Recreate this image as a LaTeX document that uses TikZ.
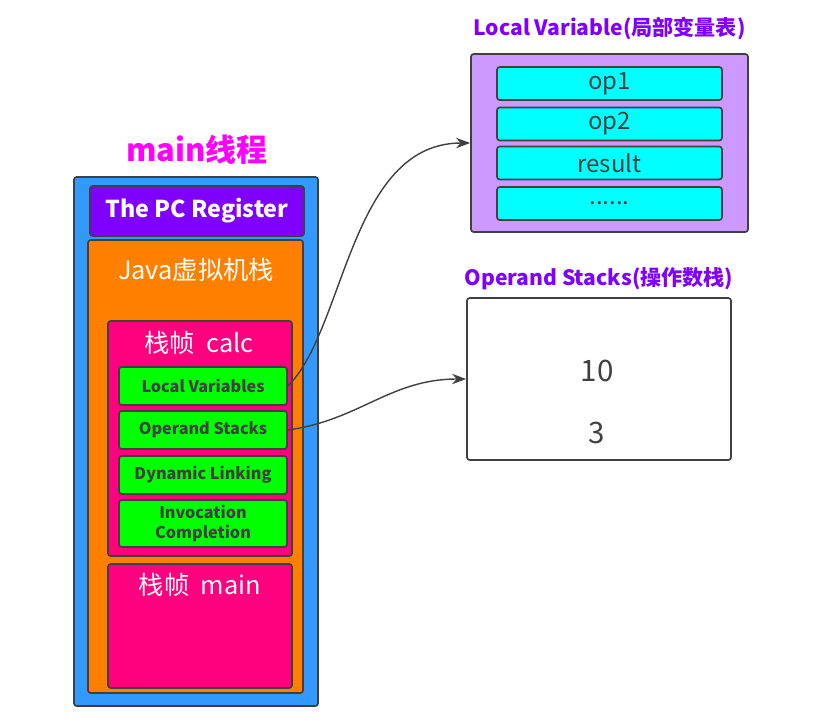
\documentclass[tikz,border=0pt]{standalone}
\usepackage{fontspec}
\setmainfont{Noto Sans CJK SC}
\usetikzlibrary{arrows.meta, positioning}

\definecolor{threadblue}{HTML}{3399FF}
\definecolor{threadpink}{HTML}{FF00FF}
\definecolor{pcpurple}{HTML}{7F00FF}
\definecolor{stackorange}{HTML}{FF8000}
\definecolor{framepink}{HTML}{FF007F}
\definecolor{slotgreen}{HTML}{00FF00}
\definecolor{cellcyan}{HTML}{00FFFF}
\definecolor{tablelilac}{HTML}{CC99FF}
\definecolor{edgegray}{HTML}{404040}

\newcommand{\fsz}[1]{\fontsize{#1}{1.2\dimexpr #1\relax}\selectfont}

\begin{document}
\begin{tikzpicture}[
    x=0.025cm, y=-0.025cm,
    panel/.style={rectangle, rounded corners=2pt, draw=edgegray, line width=1.2pt, inner sep=0pt},
    pcbox/.style={panel, fill=pcpurple, text=white, minimum width=5.35cm, minimum height=1.25cm, font=\fsz{16.5pt}\bfseries},
    framebox/.style={panel, fill=framepink, minimum width=4.6cm},
    slot/.style={panel, fill=slotgreen, text=edgegray, minimum width=4.2cm, minimum height=0.95cm, align=center, font=\fsz{11.5pt}\bfseries},
    cell/.style={panel, fill=cellcyan, text=edgegray, minimum width=5.625cm, minimum height=0.825cm, font=\fsz{17pt}},
    heading/.style={text=white, font=\fsz{18pt}},
    title/.style={text=pcpurple, font=\fsz{15pt}\bfseries},
    arrow/.style={-{Stealth[length=3.5mm, width=2.6mm]}, draw=edgegray, line width=1pt},
]
\useasboundingbox (0,0) rectangle (814,725);

% Thread
\node[font=\fsz{22pt}\bfseries, text=threadpink] (thread) at (197,150) {main线程};
\node[panel, fill=threadblue, minimum width=6.1cm, minimum height=13.225cm] (outer) at (196,441.5) {};
\node[pcbox] (pc) at (197,211) {The PC Register};

% JVM stack
\node[panel, fill=stackorange, minimum width=5.375cm, minimum height=11.325cm] (jvm) at (195.5,466.5) {};
\node[heading] at (196,270) {Java虚拟机栈};

% Frame calc
\node[framebox, minimum height=5.875cm] (calc) at (200,438.5) {};
\node[heading] at (199,343) {栈帧~~calc};
\node[slot] (lv) at (203,386) {Local Variables};
\node[slot] (os) at (203,430) {Operand Stacks};
\node[slot] (dl) at (203,475) {Dynamic Linking};
\node[slot, minimum height=1.175cm, font={\fontsize{11.5pt}{14.5pt}\selectfont\bfseries}] (ic) at (203,523.5) {Invocation\\Completion};

% Frame main
\node[framebox, minimum height=3.1cm] (mainf) at (200,626) {};
\node[heading] at (200,585) {栈帧~~main};

% Local variable table
\node[panel, fill=tablelilac, minimum width=6.925cm, minimum height=4.45cm] (lvt) at (609.5,143) {};
\node[title, above=0.2cm of lvt] {Local Variable(局部变量表)};
\node[cell] (op1) at (609.5,83.5) {op1};
\node[cell] (op2) at (609.5,124) {op2};
\node[cell] (res) at (609.5,163) {result};
\node[cell] (more) at (609.5,203.5) {......};

% Operand stack
\node[panel, fill=white, minimum width=6.6cm, minimum height=4.05cm] (ost) at (599,379) {};
\node[title, above=0.05cm of ost] {Operand Stacks(操作数栈)};
\node[text=edgegray, font=\fsz{21pt}] (ten) at (597,371) {10};
\node[text=edgegray, font=\fsz{21pt}] (three) at (597,433) {3};

% Links
\draw[arrow] (lv.east) .. controls (345,330) and (350,143) .. (lvt.west);
\draw[arrow] (os.east) .. controls (360,420) and (390,379) .. (ost.west);

\end{tikzpicture}
\end{document}
